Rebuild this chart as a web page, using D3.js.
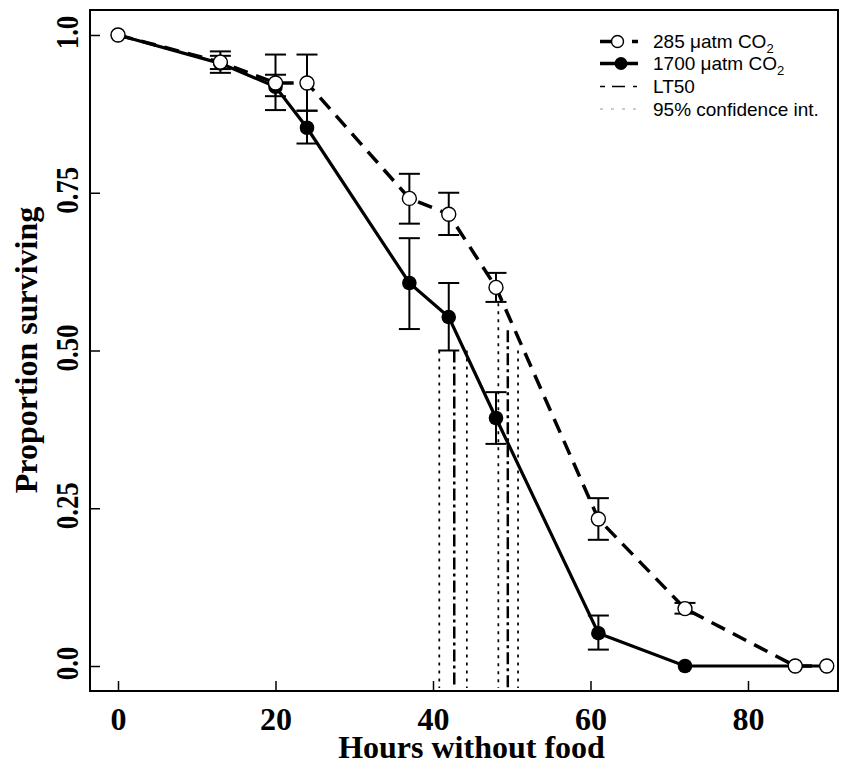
<!DOCTYPE html>
<html><head><meta charset="utf-8">
<script src="https://cdn.jsdelivr.net/npm/d3@7"></script>
<style>body{margin:0;background:#fff}svg{display:block}</style>
</head><body>
<script>
const hours = [0, 13, 20, 24, 37, 42, 48, 61, 72, 86, 90];
const low285 = [1.0, 0.957, 0.924, 0.924, 0.741, 0.716, 0.600, 0.233, 0.091, 0.0, 0.0];
const low285Lo = [null, 0.940, 0.881, 0.880, 0.701, 0.683, 0.577, 0.200, 0.083, null, null];
const low285Hi = [null, 0.974, 0.969, 0.969, 0.780, 0.750, 0.623, 0.266, 0.100, null, null];
const high1700 = [1.0, 0.955, 0.918, 0.853, 0.607, 0.553, 0.393, 0.052, 0.0, 0.0, 0.0];
const high1700Lo = [null, 0.946, 0.903, 0.828, 0.534, 0.500, 0.352, 0.026, null, null, null];
const high1700Hi = [null, 0.967, 0.937, 0.880, 0.678, 0.607, 0.434, 0.080, null, null, null];
const lt50 = [42.7, 49.5];
const lt50Top = [0.50, 0.532];
const ciLower = [40.8, 48.3];
const ciUpper = [44.3, 50.8];
const ciLowerTop = [0.50, 0.575];
const ciUpperTop = [0.50, 0.50];
const xTicks = [0, 20, 40, 60, 80];
const yTicks = [0, 0.25, 0.5, 0.75, 1.0];
const yTickLabels = ["0.0", "0.25", "0.50", "0.75", "1.0"];
const legendLabels = ["285 \u03BCatm CO", "1700 \u03BCatm CO", "LT50", "95% confidence int."];

const W = 843, H = 767;
const L = 90, R = 838, T = 10, B = 691;
const svg = d3.select("body").append("svg").attr("width", W).attr("height", H);
const x = d3.scaleLinear().domain([-3.556, 91.43]).range([L, R]);
const y = d3.scaleLinear().domain([-0.0396, 1.0396]).range([B, T]);
const serif = "Liberation Serif, Times New Roman, serif";

// axes
const xa = svg.append("g").attr("transform", `translate(0,${B})`)
  .call(d3.axisBottom(x).tickValues(xTicks).tickSize(-10).tickFormat(d3.format("d")));
const ya = svg.append("g").attr("transform", `translate(${L},0)`)
  .call(d3.axisLeft(y).tickValues(yTicks).tickSize(-10).tickFormat((d, i) => yTickLabels[i]));
[xa, ya].forEach(g => {
  g.select(".domain").remove();
  g.selectAll(".tick line").attr("stroke", "#000").attr("stroke-width", 1.5);
  g.selectAll("text").attr("font-family", serif)
    .attr("font-weight", "bold").attr("font-size", 32).attr("fill", "#000");
});
xa.selectAll(".tick text").attr("y", 39).attr("dy", null);
ya.selectAll(".tick text").attr("x", null).attr("y", null).attr("dy", null)
  .attr("text-anchor", "middle").attr("transform", "translate(-12,-3) rotate(-90) scale(0.84,1)");

// frame
svg.append("rect").attr("x", L).attr("y", T).attr("width", R - L).attr("height", B - T)
  .attr("fill", "none").attr("stroke", "#000").attr("stroke-width", 2);

// axis titles
svg.append("text").attr("x", 471.5).attr("y", 758).attr("text-anchor", "middle")
  .attr("font-family", serif).attr("font-weight", "bold").attr("font-size", 32)
  .text("Hours without food");
svg.append("text").attr("transform", `translate(37,350) rotate(-90)`).attr("text-anchor", "middle")
  .attr("font-family", serif).attr("font-weight", "bold").attr("font-size", 32)
  .text("Proportion surviving");

// LT50 + CI vertical lines
const vl = svg.append("g");
lt50.forEach((h, i) => {
  vl.append("line").attr("x1", x(h)).attr("x2", x(h)).attr("y1", y(lt50Top[i])).attr("y2", B - 3)
    .attr("stroke", "#000").attr("stroke-width", 2.5).attr("stroke-dasharray", "12,4,3,4");
  vl.append("line").attr("x1", x(ciLower[i])).attr("x2", x(ciLower[i])).attr("y1", y(ciLowerTop[i])).attr("y2", B - 3)
    .attr("stroke", "#000").attr("stroke-width", 1.7).attr("stroke-dasharray", "3,5");
  vl.append("line").attr("x1", x(ciUpper[i])).attr("x2", x(ciUpper[i])).attr("y1", y(ciUpperTop[i])).attr("y2", B - 3)
    .attr("stroke", "#000").attr("stroke-width", 1.7).attr("stroke-dasharray", "3,5");
});

const line = d3.line().x(d => x(d[0])).y(d => y(d[1]));
const d1700 = hours.map((h, i) => [h, high1700[i]]);
const d285 = hours.map((h, i) => [h, low285[i]]);
svg.append("path").attr("d", line(d1700)).attr("fill", "none").attr("stroke", "#000").attr("stroke-width", 3.2);
svg.append("path").attr("d", line(d285)).attr("fill", "none").attr("stroke", "#000").attr("stroke-width", 3.5)
  .attr("stroke-dasharray", "15,9");

// error bars
function errBars(lo, hi) {
  const g = svg.append("g").attr("stroke", "#000").attr("stroke-width", 2);
  hours.forEach((h, i) => {
    if (lo[i] == null) return;
    const cx = x(h);
    g.append("line").attr("x1", cx).attr("x2", cx).attr("y1", y(lo[i])).attr("y2", y(hi[i]));
    g.append("line").attr("x1", cx - 10.5).attr("x2", cx + 10.5).attr("y1", y(lo[i])).attr("y2", y(lo[i]));
    g.append("line").attr("x1", cx - 10.5).attr("x2", cx + 10.5).attr("y1", y(hi[i])).attr("y2", y(hi[i]));
  });
}
errBars(high1700Lo, high1700Hi);
errBars(low285Lo, low285Hi);

svg.append("g").selectAll("circle").data(d1700).join("circle")
  .attr("cx", d => x(d[0])).attr("cy", d => y(d[1])).attr("r", 7.3).attr("fill", "#000");
svg.append("g").selectAll("circle").data(d285).join("circle")
  .attr("cx", d => x(d[0])).attr("cy", d => y(d[1])).attr("r", 7).attr("fill", "#fff")
  .attr("stroke", "#000").attr("stroke-width", 1.4);

// legend
const lg = svg.append("g").attr("font-family", "Liberation Sans, Arial, sans-serif").attr("font-size", 19);
const rowY = [41.5, 63.5, 86.5, 109];
const lx0 = 600, lx1 = 638, tx = 653;
// row 1
lg.append("line").attr("x1", lx0).attr("x2", lx1).attr("y1", rowY[0]).attr("y2", rowY[0])
  .attr("stroke", "#000").attr("stroke-width", 3.5).attr("stroke-dasharray", "12,20,6,10");
lg.append("circle").attr("cx", 617.5).attr("cy", rowY[0]).attr("r", 6)
  .attr("fill", "#fff").attr("stroke", "#000").attr("stroke-width", 1.4);
// row 2
lg.append("line").attr("x1", lx0).attr("x2", lx1).attr("y1", rowY[1]).attr("y2", rowY[1])
  .attr("stroke", "#000").attr("stroke-width", 3.5);
lg.append("circle").attr("cx", 621).attr("cy", rowY[1]).attr("r", 6.5).attr("fill", "#000");
// row 3
lg.append("line").attr("x1", lx0).attr("x2", lx1).attr("y1", rowY[2]).attr("y2", rowY[2])
  .attr("stroke", "#000").attr("stroke-width", 1.5).attr("stroke-dasharray", "5,7,13,8,4,20");
// row 4
lg.append("line").attr("x1", lx0).attr("x2", lx1).attr("y1", rowY[3]).attr("y2", rowY[3])
  .attr("stroke", "#999").attr("stroke-width", 1).attr("stroke-dasharray", "3,8");
legendLabels.forEach((t, i) => {
  const te = lg.append("text").attr("x", tx).attr("y", rowY[i]).attr("dy", "0.35em").text(t);
  if (i < 2) te.append("tspan").attr("font-size", 13).attr("dy", "0.35em").text("2");
});
</script>
</body></html>
